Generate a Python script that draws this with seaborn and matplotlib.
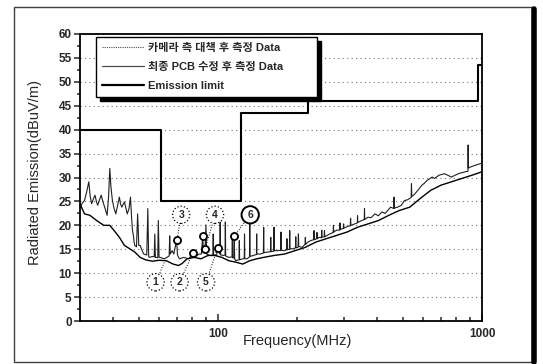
import matplotlib
matplotlib.use("Agg")
import pandas as pd
import matplotlib.pyplot as plt
import seaborn as sns
from matplotlib.lines import Line2D
from matplotlib.patches import Rectangle
from matplotlib.ticker import FixedLocator, NullFormatter

sns.set_style("ticks")
plt.rcParams["font.family"] = ["Liberation Sans", "Noto Sans CJK KR", "DejaVu Sans"]

# (MHz, dBuV/m)
# camera side countermeasure: spiky trace
camera_fix = [
    (30.0, 23.8), (30.6, 24.6), (31.2, 25.2), (31.8, 27.0), (32.4, 29.1), (32.8, 26.0),
    (33.2, 24.5), (33.7, 25.5), (34.2, 26.3), (34.6, 25.0), (35.0, 24.2), (35.6, 25.4),
    (36.1, 26.3), (36.6, 25.0), (37.2, 23.8), (38.0, 22.1), (38.5, 26.0), (38.9, 31.9),
    (39.3, 28.0), (39.8, 25.2), (40.4, 23.5), (41.0, 22.4), (41.6, 24.0), (42.3, 25.9),
    (42.7, 24.5), (43.2, 23.8), (43.7, 24.4), (44.2, 24.9), (44.8, 23.5), (45.3, 22.4),
    (46.0, 23.5), (46.6, 25.9), (47.0, 22.0), (47.4, 19.0), (47.7, 18.2), (48.1, 16.5),
    (48.4, 15.8), (49.1, 15.5), (49.6, 22.4), (50.1, 15.8), (50.7, 15.8), (51.5, 14.8),
    (52.3, 14.0), (53.7, 13.8), (54.2, 23.5), (54.6, 13.5), (55.0, 13.3), (56.4, 13.5),
    (57.3, 13.4), (57.6, 18.2), (57.9, 13.3), (58.5, 13.3), (59.1, 13.2), (59.4, 21.0),
    (59.8, 13.3), (60.3, 13.3), (62.7, 13.0), (65.3, 13.6), (65.6, 17.8), (65.9, 14.0),
    (67.0, 14.7), (68.0, 14.0), (69.7, 17.0), (70.2, 13.8), (71.4, 13.0), (74.1, 13.3),
    (77.5, 13.0), (79.0, 13.6), (80.3, 14.2), (81.1, 13.3), (84.9, 14.0), (86.5, 14.0),
    (87.5, 17.7), (88.0, 14.5), (89.3, 15.0), (90.0, 20.1), (90.5, 14.0), (93.0, 13.7),
    (95.6, 13.8), (95.9, 18.2), (96.2, 13.8), (98.8, 13.7), (99.7, 15.3), (101.5, 14.0),
    (101.9, 20.7), (102.3, 13.8), (105.0, 13.7), (106.3, 13.8), (106.6, 20.7), (106.9, 13.6),
    (109.9, 13.3), (113.0, 13.4), (113.3, 18.2), (113.6, 13.2), (114.8, 13.2), (115.2, 17.7),
    (115.6, 13.0), (116.8, 12.6), (120.1, 12.8), (120.4, 16.8), (120.7, 12.8), (124.1, 13.0),
    (125.7, 13.1), (126.0, 18.2), (126.3, 13.0), (128.7, 13.0), (131.6, 13.4), (131.9, 20.7),
    (132.2, 13.5), (135.9, 13.7), (139.8, 13.9), (140.1, 18.2), (140.4, 14.0), (144.4, 14.0),
    (148.5, 14.2), (148.9, 19.6), (149.3, 14.3), (153.5, 14.4), (158.0, 14.5), (158.4, 17.5),
    (158.8, 14.5), (162.6, 14.6), (163.0, 19.6), (163.4, 14.7), (168.1, 14.7), (172.8, 14.8),
    (173.2, 18.6), (173.6, 14.8), (178.6, 14.7), (182.0, 14.9), (182.4, 17.2), (182.8, 14.9),
    (186.4, 15.0), (186.9, 18.9), (187.4, 15.1), (192.7, 15.1), (196.5, 15.3), (197.0, 17.6),
    (197.5, 15.3), (201.0, 15.4), (201.6, 18.2), (202.2, 15.6), (207.8, 15.4), (213.6, 16.0),
    (214.2, 17.5), (214.8, 16.0), (219.0, 16.5), (224.2, 16.8), (230.5, 17.0), (231.1, 18.9),
    (231.7, 17.0), (236.5, 17.2), (237.1, 18.5), (237.7, 17.2), (241.9, 17.5), (246.5, 17.4),
    (247.1, 19.0), (247.7, 17.5), (252.4, 17.6), (253.1, 18.9), (253.8, 17.6), (264.9, 18.2),
    (273.0, 18.5), (273.7, 20.0), (274.4, 18.6), (281.5, 19.0), (289.0, 19.0), (289.7, 20.5),
    (290.4, 19.1), (298.4, 19.4), (299.1, 20.3), (299.8, 19.4), (310.0, 19.8), (317.0, 19.9),
    (317.8, 21.5), (318.6, 20.0), (330.0, 20.3), (337.0, 20.5), (337.7, 22.0), (338.4, 20.6),
    (350.0, 21.0), (358.0, 21.2), (358.8, 23.5), (359.6, 21.2), (369.9, 21.7), (380.0, 21.6),
    (393.0, 22.4), (405.0, 22.0), (417.6, 22.8), (430.0, 22.5), (450.5, 23.8), (463.4, 23.5),
    (464.4, 25.9), (465.4, 23.6), (478.7, 23.8), (495.0, 24.2), (508.7, 25.2), (520.0, 25.3),
    (539.0, 25.8), (540.5, 28.7), (542.0, 26.0), (557.1, 26.6), (575.0, 27.5), (591.9, 28.4),
    (605.0, 28.8), (619.4, 29.4), (648.2, 30.1), (660.0, 29.8), (688.8, 30.5), (720.9, 30.8),
    (766.0, 30.1), (813.8, 30.8), (864.8, 31.2), (884.5, 31.3), (886.1, 36.8), (887.7, 32.0),
    (905.2, 32.2), (947.2, 32.6), (1000.0, 33.0),
]

# final PCB revision: lower, smoother trace
pcb_fix = [
    (30.0, 24.5), (31.2, 22.4), (32.7, 22.1), (34.7, 21.0), (36.9, 20.0), (38.9, 20.0),
    (40.4, 18.9), (42.3, 17.5), (44.2, 15.8), (46.3, 15.1), (48.4, 14.4), (50.7, 13.3),
    (53.1, 12.8), (56.4, 12.5), (59.9, 12.7), (63.7, 12.6), (67.6, 11.9), (70.8, 11.6),
    (73.0, 12.0), (76.4, 13.0), (81.1, 13.3), (86.2, 13.0), (91.6, 13.7), (97.3, 13.7),
    (103.4, 13.3), (109.9, 12.6), (116.8, 12.3), (124.1, 11.9), (131.9, 12.6), (140.1, 13.0),
    (148.9, 13.3), (163.0, 13.7), (178.6, 14.0), (195.6, 14.7), (214.2, 15.4), (234.7, 16.5),
    (257.0, 17.2), (281.5, 17.9), (308.3, 18.6), (337.7, 19.6), (369.9, 20.3), (405.1, 21.0),
    (443.8, 22.1), (486.1, 23.1), (532.4, 23.8), (583.0, 25.6), (638.5, 27.3), (699.4, 28.4),
    (766.0, 29.1), (838.9, 29.8), (919.0, 30.5), (1000.0, 31.2),
]

limit_freq = [30, 61, 61, 122, 122, 219, 219, 966, 966, 1000]
limit_level = [40, 40, 25, 25, 43.5, 43.5, 46, 46, 53.5, 53.5]

marker_freq = [70.0, 80.3, 87.5, 89.3, 99.7, 115.2]
marker_level = [17.0, 14.2, 17.7, 15.0, 15.3, 17.7]

label_text = ["1", "2", "3", "4", "5", "6"]
label_freq = [58.0, 71.5, 72.5, 97.4, 90.1, 132.4]
label_level = [8.1, 8.1, 22.2, 22.2, 8.1, 22.2]
leader_freq = [63.0, 80.3, 70.0, 89.3, 99.7, 115.2]
leader_level = [12.6, 14.2, 17.0, 15.0, 15.3, 17.7]

legend_labels = ["카메라 측 대책 후 측정 Data", "최종 PCB 수정 후 측정 Data", "Emission limit"]

df_a = pd.DataFrame(camera_fix, columns=["freq", "level"])
df_b = pd.DataFrame(pcb_fix, columns=["freq", "level"])

fig = plt.figure(figsize=(5.43, 3.64), dpi=100)
ax = fig.add_axes([80 / 543, 43 / 364, 402 / 543, 287 / 364])

sns.lineplot(data=df_a, x="freq", y="level", ax=ax, color="0.12", lw=0.8,
             estimator=None, sort=False)
sns.lineplot(data=df_b, x="freq", y="level", ax=ax, color="black", lw=1.0,
             estimator=None, sort=False)
sns.lineplot(x=limit_freq, y=limit_level, ax=ax, color="black", lw=1.5,
             estimator=None, sort=False)

# leaders, markers, circled numbers
for lf, lv, ef, ev in zip(label_freq, label_level, leader_freq, leader_level):
    ax.plot([lf, ef], [lv, ev], ls=":", color="black", lw=0.7, zorder=4)
sns.scatterplot(x=marker_freq, y=marker_level, ax=ax, color="white", edgecolor="black",
                linewidth=1.3, s=26, zorder=6)
for i, (t, lf, lv) in enumerate(zip(label_text, label_freq, label_level)):
    bold = i == 5
    ax.text(lf, lv, t, ha="center", va="center", fontsize=7.5, fontweight="bold", zorder=7,
            bbox=dict(boxstyle="circle,pad=0.35", fc="white", ec="black",
                      ls="-" if bold else ":", lw=1.4 if bold else 0.9))

ax.set_xscale("log")
ax.set_xlim(30, 1000)
ax.set_ylim(0, 60)
ax.set_xticks([100, 1000])
ax.set_xticklabels(["100", "1000"], fontweight="bold", fontsize=8.5)
ax.xaxis.set_minor_locator(FixedLocator([40, 50, 60, 70, 80, 90, 200, 300, 400, 500,
                                         600, 700, 800, 900]))
ax.xaxis.set_minor_formatter(NullFormatter())
ax.set_yticks(range(0, 61, 5))
ax.set_yticklabels([str(v) for v in range(0, 61, 5)], fontweight="bold", fontsize=8.5)
ax.yaxis.set_minor_locator(FixedLocator([v + 2.5 for v in range(0, 60, 5)]))

ax.tick_params(axis="x", which="both", direction="in", width=1.1, pad=5)
ax.tick_params(axis="x", which="major", length=5)
ax.tick_params(axis="x", which="minor", length=3)
ax.tick_params(axis="y", which="both", direction="out", width=1.1, pad=2)
ax.tick_params(axis="y", which="major", length=4)
ax.tick_params(axis="y", which="minor", length=2.5)
for s in ax.spines.values():
    s.set_linewidth(1.3)
    s.set_color("black")

ax.grid(axis="y", ls=(0, (1, 3)), color="0.45", lw=0.8)

ax.set_xlabel("Frequency(MHz)", fontsize=10.5)
ax.set_ylabel("Radiated Emission(dBuV/m)", fontsize=10.5)
ax.xaxis.set_label_coords(0.542, -0.045)
ax.yaxis.set_label_coords(-0.095, 0.516)

handles = [
    Line2D([], [], color="0.3", lw=0.8, ls=(0, (1, 1))),
    Line2D([], [], color="0.3", lw=0.9),
    Line2D([], [], color="black", lw=1.6),
]
leg = ax.legend(handles, legend_labels, loc="upper left",
                bbox_to_anchor=(0.04, 0.5, 0.55, 0.49), mode="expand", borderaxespad=0,
                prop={"size": 8, "weight": "bold"}, handlelength=3.8, handletextpad=0.3,
                labelspacing=0.8, borderpad=0.55, fancybox=False, framealpha=1,
                edgecolor="black", shadow={"color": "black", "alpha": 1, "ox": 3, "oy": -3})
leg.get_frame().set_linewidth(1.0)

# scan frame
fig.add_artist(Rectangle((14 / 543, 2 / 364), (533 - 14) / 543, (357 - 2) / 364,
                         transform=fig.transFigure, fill=False, ec="0.25", lw=1.0))
fig.add_artist(Line2D([534 / 543, 534 / 543], [2 / 364, 355 / 364],
                      transform=fig.transFigure, color="black", lw=4))

fig.savefig("out.png", dpi=100)
